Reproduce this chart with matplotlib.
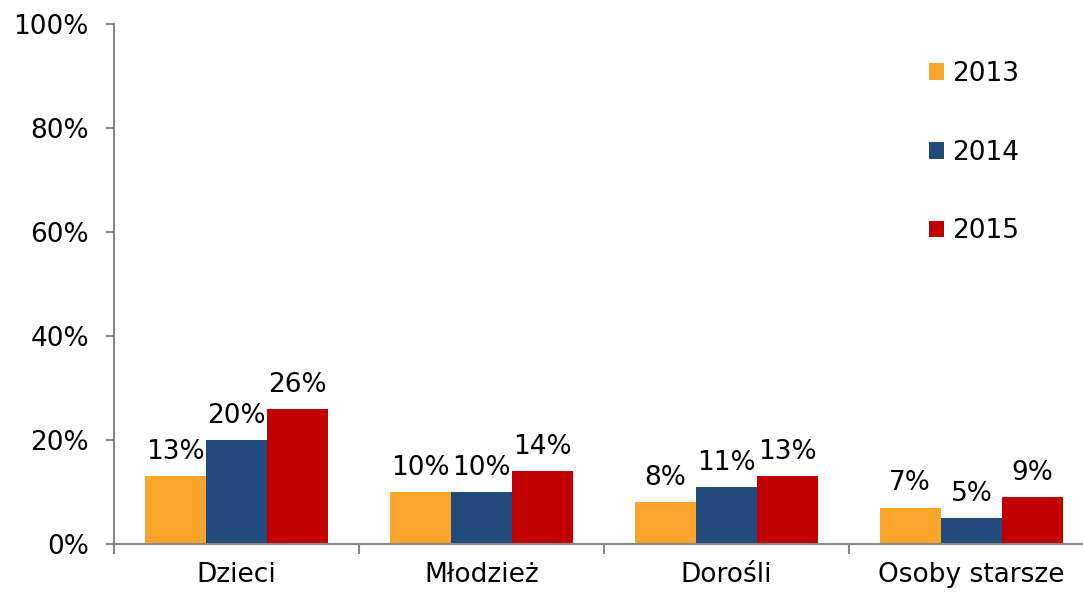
import numpy as np
import matplotlib
matplotlib.use('Agg')
from matplotlib import pyplot as plt

# data
categories = ['Dzieci', 'Młodzież', 'Dorośli', 'Osoby starsze']
years = ['2013', '2014', '2015']
v2013 = [13, 10, 8, 7]
v2014 = [20, 10, 11, 5]
v2015 = [26, 14, 13, 9]
colors = ['#FBA52A', '#214B7D', '#C00000']

plt.rcParams['font.family'] = ['DejaVu Sans']
fs = 19

fig = plt.figure(figsize=(10.83, 5.92), dpi=100)
ax = fig.add_axes([114/1083, 48/592, 980/1083, 520/592])

x = np.arange(len(categories))
w = 0.25
for i, (vals, lab) in enumerate(zip([v2013, v2014, v2015], years)):
    bars = ax.bar(x + (i - 1) * w, vals, w, color=colors[i], label=lab, zorder=2)
    ax.bar_label(bars, labels=[f'{v}%' for v in vals], padding=8, fontsize=fs)

ax.set_xlim(-0.5, 3.5)
ax.set_ylim(0, 100)
ax.set_yticks(range(0, 101, 20))
ax.set_yticklabels([f'{t}%' for t in range(0, 101, 20)], fontsize=fs)
ax.set_xticks(x)
ax.set_xticklabels(categories, fontsize=fs)
ax.set_xticks(np.arange(-0.5, 4, 1), minor=True)
ax.tick_params(axis='x', which='major', length=0, pad=13)
ax.tick_params(axis='x', which='minor', length=7, color='#888888', width=1.5)
ax.tick_params(axis='y', length=6, color='#888888', width=1.5, pad=12)

for s in ['top', 'right']:
    ax.spines[s].set_visible(False)
for s in ['left', 'bottom']:
    ax.spines[s].set_color('#888888')
    ax.spines[s].set_linewidth(1.5)

ax.legend(loc='upper left', bbox_to_anchor=(0.807, 0.975), frameon=False, fontsize=fs,
          handlelength=0.6, handleheight=0.6, handletextpad=0.3, labelspacing=2.0)

fig.savefig('out.png', dpi=100)
